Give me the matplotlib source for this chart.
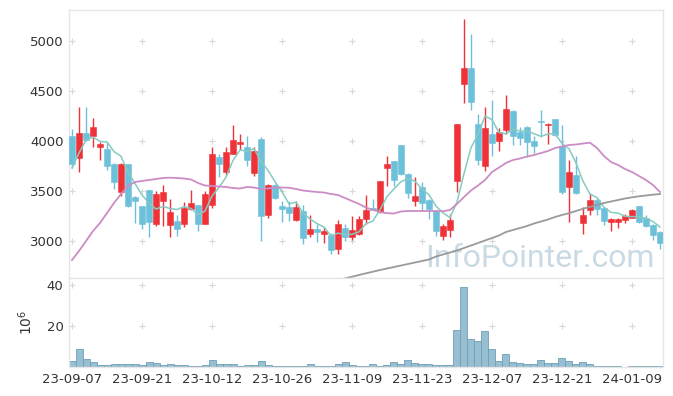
import matplotlib
matplotlib.use("Agg")
import matplotlib.pyplot as plt
import numpy as np
import pandas as pd

# ---------------- data ----------------
tick_labels = ["23-09-07", "23-09-21", "23-10-12", "23-10-26", "23-11-09",
               "23-11-23", "23-12-07", "23-12-21", "24-01-09"]

opens = [4050, 3830, 4080, 4050, 3945, 3925, 3775, 3495, 3775, 3440,
         3350, 3510, 3175, 3405, 3160, 3205, 3175, 3320, 3360, 3175,
         3360, 3840, 3690, 3875, 3970, 3945, 3680, 4025, 3265, 3565,
         3350, 3345, 3215, 3300, 3070, 3120, 3070, 3065, 2925, 3135,
         3045, 3070, 3220, 3335, 3290, 3735, 3800, 3960, 3670, 3400,
         3545, 3410, 3300, 3055, 3115, 3600, 4575, 4735, 4175, 3755,
         4070, 4005, 4110, 4300, 4095, 4145, 4000, 4200, 4160, 4220,
         3950, 3545, 3660, 3180, 3315, 3415, 3335, 3195, 3195, 3210,
         3235, 3350, 3235, 3160, 3095]
highs = [4120, 4340, 4340, 4230, 3990, 3990, 3780, 3780, 3775, 3455,
         3350, 3510, 3500, 3560, 3420, 3260, 3390, 3510, 3360, 3500,
         3940, 3875, 3945, 4165, 4075, 4055, 3945, 4040, 3570, 3570,
         3400, 3400, 3400, 3360, 3265, 3175, 3145, 3080, 3210, 3175,
         3255, 3255, 3460, 3420, 3600, 3850, 3800, 3965, 3680, 3645,
         3595, 3420, 3300, 3170, 3275, 4170, 5225, 5075, 4270, 4340,
         4410, 4130, 4460, 4310, 4140, 4150, 4050, 4310, 4180, 4225,
         4160, 3815, 3850, 3345, 3480, 3430, 3340, 3230, 3230, 3275,
         3325, 3350, 3265, 3170, 3100]
lows = [3730, 3690, 4000, 3940, 3810, 3710, 3520, 3450, 3340, 3180,
        3120, 3045, 3150, 3150, 3045, 3055, 3145, 3315, 3100, 3170,
        3335, 3645, 3660, 3870, 3910, 3755, 3655, 3000, 3235, 3420,
        3190, 3200, 3200, 2975, 3045, 2995, 2985, 2870, 2870, 3000,
        3010, 3065, 3175, 3310, 3280, 3555, 3555, 3660, 3430, 3350,
        3310, 3225, 3050, 3015, 3045, 3490, 4385, 4315, 3765, 3700,
        3850, 3900, 4075, 3960, 3960, 3845, 3880, 4045, 3970, 4055,
        3475, 3195, 3470, 3075, 3260, 3260, 3165, 3100, 3135, 3185,
        3230, 3180, 3140, 3015, 2925]
closes = [3770, 4080, 4010, 4140, 3975, 3750, 3595, 3775, 3355, 3400,
          3175, 3195, 3470, 3490, 3295, 3125, 3335, 3385, 3175, 3475,
          3875, 3775, 3890, 4015, 3995, 3815, 3900, 3255, 3565, 3430,
          3320, 3285, 3345, 3030, 3120, 3095, 3100, 2910, 3170, 3045,
          3110, 3225, 3310, 3315, 3600, 3770, 3610, 3670, 3485, 3450,
          3385, 3320, 3105, 3150, 3210, 4170, 4735, 4395, 3815, 4135,
          3985, 4095, 4325, 4055, 4035, 3995, 3955, 4190, 4175, 4060,
          3495, 3695, 3480, 3260, 3415, 3325, 3205, 3225, 3225, 3255,
          3310, 3195, 3150, 3060, 2985]
# closes of the 4 sessions before the first shown one (for the 5-day average)
prev_closes = [3330, 3360, 3990, 4200]

ma20 = [2810, 2900, 3000, 3100, 3180, 3280, 3380, 3470, 3550, 3590,
        3600, 3610, 3620, 3630, 3633, 3630, 3625, 3615, 3580, 3555,
        3550, 3545, 3540, 3530, 3525, 3540, 3535, 3520, 3525, 3535,
        3535, 3533, 3520, 3505, 3497, 3490, 3485, 3470, 3460, 3430,
        3400, 3370, 3335, 3310, 3290, 3278, 3275, 3295, 3300, 3300,
        3300, 3300, 3300, 3298, 3310, 3370, 3440, 3505, 3555, 3610,
        3690, 3735, 3780, 3810, 3825, 3845, 3860, 3880, 3900, 3930,
        3945, 3960, 3965, 3975, 3983, 3930, 3850, 3790, 3760, 3720,
        3690, 3650, 3610, 3560, 3490]
ma60_start = 37
ma60 = [2590, 2610, 2625, 2643, 2660, 2677, 2693, 2710, 2725, 2740,
        2755, 2770, 2785, 2800, 2815, 2845, 2865, 2885, 2905, 2930,
        2955, 2980, 3005, 3030, 3055, 3090, 3110, 3130, 3150, 3175,
        3195, 3215, 3240, 3260, 3278, 3300, 3322, 3342, 3360, 3380,
        3395, 3410, 3425, 3437, 3447, 3455, 3463, 3470]

volume = [3, 9, 4, 2.5, 1, 1, 1.5, 1.5, 1.5, 1.5,
          1, 2.5, 2, 1, 1.5, 1, 1, 0.5, 0.5, 1,
          3.5, 1.5, 1.5, 1.5, 0.5, 1, 1, 3, 1, 0.5,
          0.5, 0.5, 0.5, 0.5, 1.5, 0.5, 0.5, 0.5, 1.5, 2.5,
          1, 0.5, 0.5, 1.5, 0.5, 1, 2.5, 1.5, 3.5, 2,
          1.5, 1.5, 1, 1, 1, 18, 39, 13.5, 12.8, 17.5,
          9, 3, 6.5, 2.5, 2, 1.5, 1.5, 3.5, 2, 2,
          4.5, 3, 1.5, 2.5, 1.5, 0.5, 0.5, 0.5, 0.5, 0.0,
          0.5, 0.5, 0.5, 0.5, 0.5]

# ---------------- styling ----------------
UP = "#ee3238"
DOWN = "#6cc0da"
GRID = "#d8d8d8"
TXT = "#333333"

n = len(closes)
x = np.arange(n)
o = np.array(opens); h = np.array(highs); l = np.array(lows); c = np.array(closes)
up = c >= o

ma5 = pd.Series(prev_closes + closes).rolling(5).mean().to_numpy()[len(prev_closes):]

fig = plt.figure(figsize=(6.73, 3.96), dpi=100)
axp = fig.add_axes([69/673, 1-278/396, (663-69)/673, (278-10)/396])
axv = fig.add_axes([69/673, 1-367/396, (663-69)/673, (367-278)/396], sharex=axp)

# candles
cols = np.where(up, UP, DOWN)
axp.vlines(x, l, h, colors=cols, linewidth=1.0, zorder=2)
axp.bar(x, np.abs(c - o), bottom=np.minimum(o, c), width=0.72,
        color=cols, edgecolor=cols, linewidth=0.4, zorder=3)

# moving averages
axp.plot(x, ma5, color="#86cbc2", linewidth=1.1, zorder=4)
axp.plot(x, ma20, color="#cc8cc4", linewidth=1.3, zorder=4)
axp.plot(x[ma60_start:ma60_start+len(ma60)], ma60, color="#9a9a9a", linewidth=1.3, zorder=4)

axp.set_xlim(-0.43, n - 1 + 0.43)
axp.set_ylim(2630, 5310)
yt = [3000, 3500, 4000, 4500, 5000]
xt = list(range(0, n, 10))[:len(tick_labels)]
axp.set_yticks(yt)
axp.set_yticklabels([str(v) for v in yt])

# grid crosses
gx, gy = np.meshgrid(xt, yt)
axp.scatter(gx.ravel(), gy.ravel(), marker="+", s=22, color=GRID, linewidths=0.8, zorder=1)

axp.text(0.985, 0.02, "InfoPointer.com", transform=axp.transAxes, ha="right", va="bottom",
         fontsize=23, family="Roboto", color="#c9dae4", zorder=1)

# volume
axv.bar(x, volume, width=1.0, color="#97bfd1", edgecolor="#6f9fb8", linewidth=0.6, zorder=2)
axv.set_ylim(0, 43.5)
vt = [20, 40]
axv.set_yticks(vt)
axv.set_yticklabels([str(v) for v in vt])
gx2, gy2 = np.meshgrid(xt, vt)
axv.scatter(gx2.ravel(), gy2.ravel(), marker="+", s=22, color=GRID, linewidths=0.8, zorder=1)
axv.set_xticks(xt)
axv.set_xticklabels(tick_labels)
axv.set_ylabel("10$^6$", fontsize=10, color=TXT, labelpad=8)

for ax in (axp, axv):
    for sp in ax.spines.values():
        sp.set_color("#e6e6e6")
        sp.set_linewidth(1.0)
    ax.tick_params(length=0, colors=TXT, labelsize=9.5, pad=4)
plt.setp(axp.get_xticklabels(), visible=False)

fig.savefig("out.png", dpi=100)
